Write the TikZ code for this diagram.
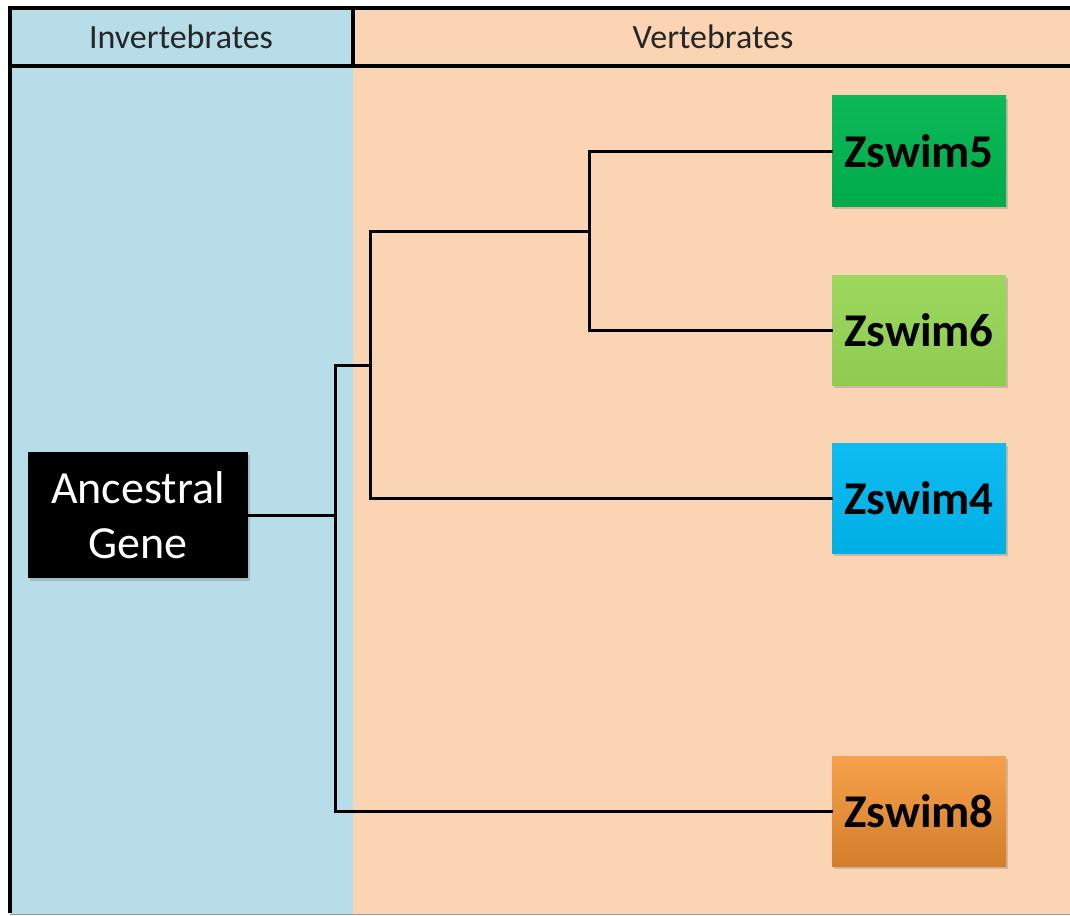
\documentclass[tikz,border=0pt]{standalone}
\usepackage{fontspec}
\setmainfont{Carlito}
\usetikzlibrary{shadows}
\definecolor{invblue}{HTML}{B7DDE8}
\definecolor{verpeach}{HTML}{FBD4B4}
\definecolor{zfive}{HTML}{00B450}
\definecolor{zsix}{HTML}{96D655}
\definecolor{zfour}{HTML}{00B8F0}
\definecolor{zeight}{HTML}{F79433}
\begin{document}
\begin{tikzpicture}[x=1pt,y=-1pt,
  frame/.style={line width=3.5pt,black},
  tree/.style={line width=3pt,black,line cap=rect},
  header/.style={font=\fontsize{34}{40}\selectfont,text=black!85},
  gene/.style={draw=none,inner sep=0pt,minimum width=174pt,minimum height=110pt,
    font=\bfseries\fontsize{47}{52}\selectfont,text=black,
    drop shadow={shadow xshift=2pt,shadow yshift=-3pt,opacity=0.35}},
  ancestor/.style={draw=none,fill=black,inner sep=0pt,minimum width=220pt,minimum height=126pt,
    align=center,text=white,font=\fontsize{46}{55}\selectfont,
    drop shadow={shadow xshift=2pt,shadow yshift=-3pt,opacity=0.35}}]
\useasboundingbox (0,0) rectangle (1070,915);
\fill[white] (0,0) rectangle (1070,915);
% backgrounds
\fill[invblue] (10,8) rectangle (353,915);
\fill[verpeach] (353,8) rectangle (1070,915);
\draw[black!40,line width=1pt] (10,914) -- (1070,914);
% frame
\draw[frame] (1070,8) -- (10,8) -- (10,913);
\draw[frame] (10,66) -- (1070,66);
\draw[frame] (353,8) -- (353,66);
% headers
\node[header] (inv) at (181,37) {Invertebrates};
\node[header] (ver) at (713,37) {Vertebrates};
% gene boxes
\node[ancestor] (anc) at (138,515) {Ancestral\\Gene};
\node[gene,top color=zfive!95!white,bottom color=zfive!95!black] (z5) at (919,151) {Zswim5};
\node[gene,top color=zsix!95!white,bottom color=zsix!95!black] (z6) at (919,330) {Zswim6};
\node[gene,top color=zfour!95!white,bottom color=zfour!95!black] (z4) at (919,498) {Zswim4};
\node[gene,top color=zeight!88!white,bottom color=zeight!85!black] (z8) at (919,811) {Zswim8};
% junctions
\coordinate (j1) at (335,515);
\coordinate (j1t) at (335,365);
\coordinate (j2) at (370,365);
\coordinate (j2t) at (370,231);
\coordinate (j3) at (589,231);
% tree
\draw[tree] (anc.east) -- (j1);
\draw[tree] (j1t) -- (j1t |- z8.west) -- (z8.west);
\draw[tree] (j1t) -- (j2);
\draw[tree] (j2t) -- (j2t |- z4.west) -- (z4.west);
\draw[tree] (j2t) -- (j3);
\draw[tree] (j3 |- z5.west) -- (j3 |- z6.west);
\draw[tree] (j3 |- z5.west) -- (z5.west);
\draw[tree] (j3 |- z6.west) -- (z6.west);
\end{tikzpicture}
\end{document}
